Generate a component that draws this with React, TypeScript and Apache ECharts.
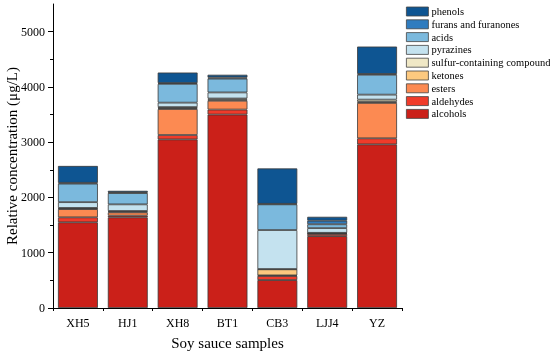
import React, { useEffect, useRef } from "react";
import * as echarts from "echarts";

const samples = ["XH5", "HJ1", "XH8", "BT1", "CB3", "LJJ4", "YZ"];

const alcohols = [1550, 1640, 3050, 3500, 505, 1300, 2960];
const aldehydes = [90, 30, 80, 90, 75, 40, 110];
const esters = [150, 60, 470, 160, 10, 10, 640];
const ketones = [10, 15, 15, 20, 110, 5, 20];
const sulfur = [10, 10, 20, 20, 5, 5, 40];
const pyrazines = [105, 120, 80, 110, 705, 85, 90];
const acids = [335, 205, 340, 250, 465, 70, 360];
const furans = [15, 10, 15, 20, 10, 65, 15];
const phenols = [305, 30, 190, 50, 640, 70, 495];

const yTicks = [0, 1000, 2000, 3000, 4000, 5000];

const seriesDefs = [
  { name: "alcohols", data: alcohols, color: "#cb2019" },
  { name: "aldehydes", data: aldehydes, color: "#f03b2a" },
  { name: "esters", data: esters, color: "#fc8a52" },
  { name: "ketones", data: ketones, color: "#fdc97f" },
  { name: "sulfur-containing compound", data: sulfur, color: "#f0e8c6" },
  { name: "pyrazines", data: pyrazines, color: "#c4e2ef" },
  { name: "acids", data: acids, color: "#7bb9dd" },
  { name: "furans and furanones", data: furans, color: "#2f7cbf" },
  { name: "phenols", data: phenols, color: "#0e5592" },
];

const FONT = "'Liberation Serif', 'Times New Roman', serif";

export default function App() {
  const ref = useRef<HTMLDivElement>(null);
  useEffect(() => {
    if (!ref.current) return;
    const chart = echarts.init(ref.current, undefined, { renderer: "svg" });
    chart.setOption({
      animation: false,
      textStyle: { fontFamily: FONT, color: "#000" },
      grid: { left: 53, right: 148, top: 4, bottom: 46, containLabel: false, outerBoundsMode: "none" },
      legend: {
        orient: "vertical",
        left: 406,
        top: 6,
        padding: 0,
        icon: "rect",
        itemWidth: 22,
        itemHeight: 9,
        itemGap: 1.8,
        data: seriesDefs.map((s) => s.name).reverse(),
        itemStyle: { borderColor: "#444", borderWidth: 0.8 },
        textStyle: { fontFamily: FONT, fontSize: 10.5, color: "#000", padding: [0, 0, 0, -2] },
      },
      xAxis: [
        {
          type: "category",
          data: samples,
          axisLine: { lineStyle: { color: "#000", width: 1 } },
          axisTick: { alignWithLabel: true, length: 5, lineStyle: { color: "#000" } },
          axisLabel: { fontFamily: FONT, fontSize: 12, color: "#000", margin: 9 },
          name: "Soy sauce samples",
          nameLocation: "middle",
          nameGap: 27,
          nameMoveOverlap: false,
          nameTextStyle: { fontFamily: FONT, fontSize: 15, color: "#000" },
        },
        {
          type: "category",
          data: samples,
          position: "bottom",
          axisLine: { show: false },
          axisTick: { show: true, length: 3, lineStyle: { color: "#000" } },
          axisLabel: { show: false },
        },
      ],
      yAxis: {
        type: "value",
        min: 0,
        max: 5500,
        interval: 1000,
        splitLine: { show: false },
        axisLine: { show: true, lineStyle: { color: "#000", width: 1 } },
        axisTick: { show: true, length: 5, lineStyle: { color: "#000" }, customValues: yTicks },
        minorTick: { show: true, splitNumber: 2, length: 3, lineStyle: { color: "#000" } },
        axisLabel: {
          fontFamily: FONT,
          fontSize: 12,
          color: "#000",
          margin: 8,
          customValues: yTicks,
          formatter: (v: number) => String(v),
        },
        name: "Relative concentration (μg/L)",
        nameLocation: "middle",
        nameGap: 34,
        nameMoveOverlap: false,
        nameTextStyle: { fontFamily: FONT, fontSize: 15, color: "#000" },
      },
      series: seriesDefs.map((s) => ({
        name: s.name,
        type: "bar",
        stack: "total",
        data: s.data,
        barCategoryGap: "20%",
        itemStyle: { color: s.color, borderColor: "#3a3a3a", borderWidth: 0.8 },
      })),
    });
    return () => chart.dispose();
  }, []);
  return (
    <div
      ref={ref}
      style={{ position: "fixed", left: 0, top: 0, width: 550, height: 354 }}
    />
  );
}
